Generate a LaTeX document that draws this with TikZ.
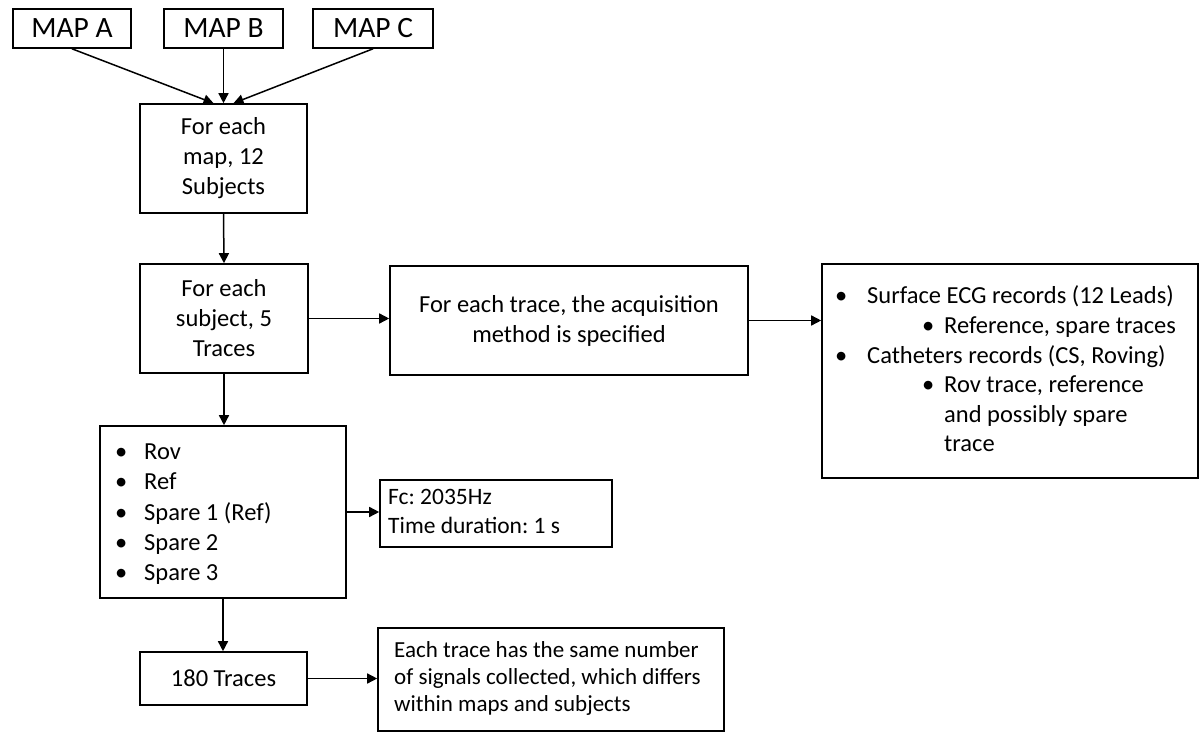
\documentclass[tikz,border=0pt]{standalone}
\usepackage{fontspec}
\setmainfont{Carlito}
\usetikzlibrary{arrows.meta}
\frenchspacing
\tikzset{
  box/.style={draw, line width=1.6pt, inner sep=0pt},
  conn/.style={line width=1.5pt, -{Triangle[length=10pt,width=10pt]}},
  body/.style={font=\fontsize{24.5}{30}\selectfont, align=center},
  mapfont/.style={font=\fontsize{29.5}{32}\selectfont},
  lst/.style={anchor=west, inner sep=0pt},
}
\begin{document}
\begin{tikzpicture}[x=1pt,y=-1pt]
\useasboundingbox (0,0) rectangle (1202,733);
% map boxes
\node[box, mapfont, minimum width=118pt, minimum height=39pt] (mapA) at (72,28.5) {MAP A};
\node[box, mapfont, minimum width=119pt, minimum height=39pt] (mapB) at (223.5,28.5) {MAP B};
\node[box, mapfont, minimum width=120pt, minimum height=39pt] (mapC) at (373,28.5) {MAP C};
% main column
\node[box, body, minimum width=167pt, minimum height=109pt] (maps) at (223.5,158.5) {For each\\map, 12\\Subjects};
\node[box, body, minimum width=168pt, minimum height=109pt] (subj) at (224,318.5) {For each\\subject, 5\\Traces};
\node[box, body, minimum width=358pt, minimum height=109pt] (acq) at (569,320.5) {For each trace, the acquisition\\method is specified};
\node[box, minimum width=376pt, minimum height=214pt] (ecg) at (1010,371) {};
\node[lst, font=\fontsize{24.5}{29.6}\selectfont] (ecgtxt) at (835,372) {%
\begin{tabular}{@{}p{32pt}@{}p{55pt}@{}p{22pt}@{}l@{}}
\textbullet & \multicolumn{3}{@{}l@{}}{Surface ECG records (12 Leads)}\\
 & & \textbullet & Reference, spare traces\\
\textbullet & \multicolumn{3}{@{}l@{}}{Catheters records (CS, Roving)}\\
 & & \textbullet & Rov trace, reference\\
 & & & and possibly spare\\
 & & & trace
\end{tabular}};
\node[box, minimum width=246pt, minimum height=172pt] (rov) at (223,512) {};
\node[lst, font=\fontsize{24.5}{30.2}\selectfont] (rovtxt) at (115,514) {%
\begin{tabular}{@{}p{29pt}@{}l@{}}
\textbullet & Rov\\
\textbullet & Ref\\
\textbullet & Spare 1 (Ref)\\
\textbullet & Spare 2\\
\textbullet & Spare 3
\end{tabular}};
\node[box, minimum width=232pt, minimum height=67pt] (fc) at (496,513.5) {};
\node[lst, font=\fontsize{23.5}{29}\selectfont] (fctxt) at (388,513) {%
\begin{tabular}{@{}l@{}}
Fc: 2035Hz\\
Time duration: 1 s
\end{tabular}};
\node[box, body, minimum width=167pt, minimum height=53pt] (t180) at (223.5,678.5) {180 Traces};
\node[box, minimum width=346pt, minimum height=103pt] (each) at (551,679.5) {};
\node[lst, font=\fontsize{23}{27}\selectfont] (eachtxt) at (394,679) {%
\begin{tabular}{@{}l@{}}
Each trace has the same number\\
of signals collected, which differs\\
within maps and subjects
\end{tabular}};
% connectors
\draw[conn] (mapA.south) -- ([xshift=-10pt]maps.north);
\draw[conn] (mapB.south) -- (maps.north);
\draw[conn] (mapC.south) -- ([xshift=10pt]maps.north);
\draw[conn] (maps.south) -- (subj.north);
\draw[conn] (subj.east) -- (subj.east -| acq.west);
\draw[conn] (acq.east) -- (acq.east -| ecg.west);
\draw[conn] (subj.south) -- (subj.south |- rov.north);
\draw[conn] (rov.east) -- (rov.east -| fc.west);
\draw[conn] (rov.south) -- (rov.south |- t180.north);
\draw[conn] (t180.east) -- (t180.east -| each.west);
\end{tikzpicture}
\end{document}
